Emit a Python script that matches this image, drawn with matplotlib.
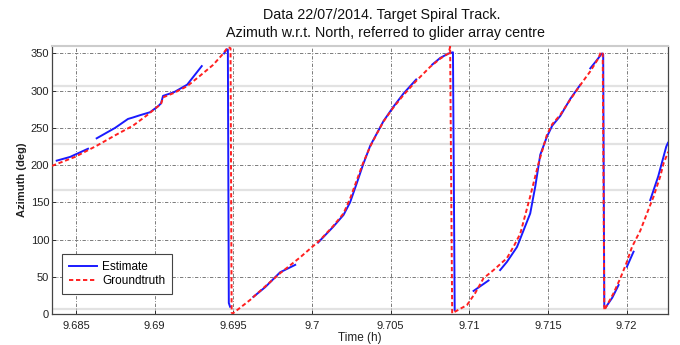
import numpy as np
import matplotlib
matplotlib.use("Agg")
import matplotlib.pyplot as plt

plt.rcParams['font.family'] = ['Liberation Sans', 'DejaVu Sans']

nan = np.nan

# Groundtruth azimuth track (time in hours, azimuth in degrees)
truth_t = [9.68347, 9.68493, 9.68631, 9.68748, 9.68862, 9.68951, 9.69021, 9.69040,
           9.69053, 9.69123, 9.69206, 9.69288, 9.69371, 9.69428, 9.69466, 9.69482,
           9.69489, 9.69495, 9.69606, 9.69702, 9.69797, 9.69924, 9.70052, 9.70134,
           9.70200, 9.70242, 9.70285, 9.70325, 9.70370, 9.70414, 9.70454, 9.70516,
           9.70581, 9.70662, 9.70751, 9.70815, 9.70868, 9.70878, 9.70891, 9.70985,
           9.71037, 9.71090, 9.71154, 9.71239, 9.71285, 9.71324, 9.71387, 9.71440,
           9.71493, 9.71527, 9.71578, 9.71629, 9.71684, 9.71724, 9.71769, 9.71821,
           9.71836, 9.71848, 9.71858, 9.71917, 9.71960, 9.71998, 9.72034, 9.72087,
           9.72129, 9.72171, 9.72214, 9.72235, 9.72265]
truth_az = [199, 211, 226, 240, 253, 267, 279, 282,
            291, 297, 306, 320, 334.6, 348, 358.5, 357,
            2, 0.5, 18.8, 37, 54.7, 76, 99.5, 118,
            135, 155, 180, 203, 225, 243, 258.5, 277,
            294, 313, 332, 343, 350, 359, 1, 12,
            28, 48, 59, 75, 92, 108, 158, 202.5,
            240.5, 255, 267.5, 284, 301, 313, 326, 343.6,
            352, 350, 5, 28, 48, 68, 90, 112,
            135, 157.6, 185, 202.5, 218]

# Estimated azimuth (NaN marks gaps in the estimate)
est_t = [9.68377, 9.68462, 9.68576, nan,
         9.68631, 9.68748, 9.68830, 9.68862, 9.68906, 9.68970, 9.69021, 9.69040,
         9.69053, 9.69123, 9.69206, 9.69299, nan,
         9.69441, 9.69458, 9.69465, 9.69471, 9.69479, nan,
         9.69627, 9.69702, 9.69797, 9.69893, nan,
         9.70039, 9.70134, 9.70200, 9.70242, 9.70285, 9.70325, 9.70370, 9.70454,
         9.70516, 9.70581, 9.70662, nan,
         9.70764, 9.70815, 9.70868, 9.70896, 9.70907, nan,
         9.71027, 9.71122, nan,
         9.71196, 9.71239, 9.71303, 9.71387, 9.71419, 9.71451, 9.71493, 9.71527,
         9.71578, 9.71642, 9.71705, nan,
         9.71769, 9.71807, 9.71843, 9.71851, 9.71858, 9.71864, 9.71909, 9.71949, nan,
         9.72002, 9.72044, nan,
         9.72150, 9.72201, 9.72252, 9.72263]
est_az = [206, 211, 222, nan,
          236, 250, 262, 264, 267, 271, 279, 283,
          293, 298, 308, 333, nan,
          350, 355.6, 355, 14.8, 9.8, nan,
          23, 36, 56, 66, nan,
          96, 117, 133, 150, 176, 201, 226, 259,
          278, 296, 315, nan,
          335, 344, 350, 351.6, 5.4, nan,
          31, 45, nan,
          59, 70, 90, 135, 171, 214, 238, 253,
          266, 289, 307.8, nan,
          330, 340, 350, 349, 10, 8, 22, 39, nan,
          63.6, 83.7, nan,
          153, 185, 225, 230]

x_ticks = [9.685, 9.69, 9.695, 9.7, 9.705, 9.71, 9.715, 9.72]
x_tick_labels = ['9.685', '9.69', '9.695', '9.7', '9.705', '9.71', '9.715', '9.72']
y_ticks = [0, 50, 100, 150, 200, 250, 300, 350]
# faint secondary rules across the plot
faint_rules = [6.3, 166.7, 228.5, 306.9]

fig = plt.figure(figsize=(6.8, 3.45), dpi=100)
ax = fig.add_axes([52 / 680, 31 / 345, 616 / 680, 268 / 345])

for yv in faint_rules:
    ax.axhline(yv, color='#e2e2e2', lw=1.6, zorder=0)

ax.plot(est_t, est_az, color='#1a1aff', lw=1.4, label='Estimate', zorder=3)
ax.plot(truth_t, truth_az, color='#ff2020', lw=1.4, ls=(0, (2.2, 1.4)),
        label='Groundtruth', zorder=4)

ax.set_xlim(9.68347, 9.72263)
ax.set_ylim(0, 360)
ax.set_xticks(x_ticks)
ax.set_xticklabels(x_tick_labels)
ax.set_yticks(y_ticks)
ax.tick_params(direction='in', length=3, labelsize=8, colors='#222222',
               width=0.6)
ax.tick_params(axis='y', pad=2)
ax.tick_params(axis='x', pad=5)

ax.grid(True, color='#666666', lw=0.6, ls=(0, (4, 2, 1, 2)))
for side in ['left', 'bottom', 'right']:
    ax.spines[side].set_color('#444444')
    ax.spines[side].set_linewidth(0.9)
ax.spines['top'].set_color('#cccccc')
ax.spines['top'].set_linewidth(1.5)

ax.set_xlabel('Time (h)', fontsize=8.5, labelpad=1, color='#222222')
ax.set_ylabel('Azimuth (deg)', fontsize=8, labelpad=3, color='#222222',
              fontweight='bold')

fig.text(382 / 680, 1 - 15 / 345, 'Data 22/07/2014. Target Spiral Track.',
         ha='center', va='center', fontsize=10.3, color='#111111')
fig.text(385 / 680, 1 - 33 / 345,
         'Azimuth w.r.t. North, referred to glider array centre',
         ha='center', va='center', fontsize=10.3, color='#111111')

leg = ax.legend(loc='lower left', bbox_to_anchor=(0.016, 0.075),
                borderaxespad=0, fontsize=8.5, handlelength=2.4,
                handletextpad=0.4, borderpad=0.6, labelspacing=0.15,
                fancybox=False, framealpha=1)
leg.get_frame().set_edgecolor('#444444')
leg.get_frame().set_linewidth(0.8)

fig.savefig('out.png', dpi=100)
